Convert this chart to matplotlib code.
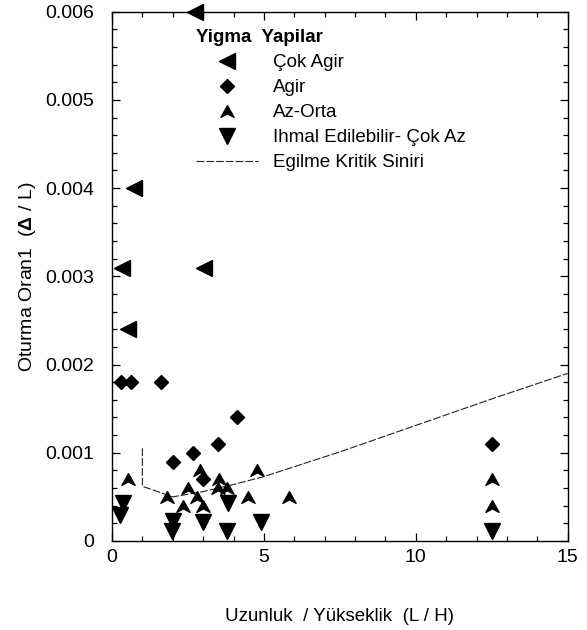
import matplotlib as mpl

mpl.use("Agg")
import matplotlib.pyplot as plt
import numpy as np
from matplotlib.path import Path
from matplotlib.ticker import MultipleLocator

plt.rcParams.update({
    "font.family": ["Liberation Sans", "DejaVu Sans"],
    "mathtext.fontset": "custom",
    "mathtext.rm": "Liberation Sans",
    "mathtext.bf": "Liberation Sans:bold",
    "font.size": 13.5,
})

# Çok Agir (very heavy)
cok_x = [2.74, 0.72, 0.32, 3.02, 0.54]
cok_y = [0.0060, 0.0040, 0.0031, 0.0031, 0.0024]

# Agir (heavy)
agir_x = [0.29, 0.62, 1.61, 4.10, 3.50, 2.68, 2.02, 2.99, 12.5]
agir_y = [0.0018, 0.0018, 0.0018, 0.0014, 0.0011, 0.0010, 0.0009, 0.0007, 0.0011]

# Az-Orta (light-moderate)
az_x = [0.52, 2.90, 4.79, 3.52, 2.51, 3.50, 3.80, 1.80, 2.79, 4.49, 5.83, 2.35, 3.01, 12.5, 12.5]
az_y = [0.0007, 0.0008, 0.0008, 0.0007, 0.0006, 0.0006, 0.0006, 0.0005, 0.0005, 0.0005,
        0.0005, 0.0004, 0.0004, 0.0007, 0.0004]

# Ihmal Edilebilir - Çok Az (negligible)
ihmal_x = [0.36, 0.27, 2.02, 1.96, 3.01, 3.83, 3.80, 4.90, 12.5]
ihmal_y = [0.00043, 0.00030, 0.00023, 0.00011, 0.00022, 0.00043, 0.00011, 0.00022, 0.00011]

# Egilme kritik siniri (bending critical limit)
lim_x = [1.0, 1.0, 2.0, 3.0, 4.0, 5.0, 7.5, 10.0, 12.5, 15.0]
lim_y = [0.00105, 0.00062, 0.00050, 0.00056, 0.00064, 0.00073, 0.00101, 0.00131, 0.00161, 0.00190]

# arrowhead marker used for Az-Orta
ARROW = Path([(0, 0.55), (0.62, -0.55), (0, -0.22), (-0.62, -0.55), (0, 0.55)],
             [Path.MOVETO, Path.LINETO, Path.LINETO, Path.LINETO, Path.CLOSEPOLY])

fig = plt.figure(figsize=(5.87, 6.3), dpi=100)
ax = fig.add_axes([0.1908, 0.1413, 0.7762, 0.8401])

ax.plot(cok_x, cok_y, ls="none", marker="<", ms=11, color="black", clip_on=False,
        label="Çok Agir", zorder=3)
ax.plot(agir_x, agir_y, ls="none", marker="D", ms=7.5, color="black", clip_on=False,
        label="Agir", zorder=3)
ax.plot(az_x, az_y, ls="none", marker=ARROW, ms=9.5, color="black", clip_on=False,
        label="Az-Orta", zorder=3)
ax.plot(ihmal_x, ihmal_y, ls="none", marker="v", ms=12, color="black", clip_on=False,
        label="Ihmal Edilebilir- Çok Az", zorder=3)
ax.plot(lim_x, lim_y, color="#222222", lw=0.8, dashes=(7, 1.8),
        label="Egilme Kritik Siniri", zorder=2)

ax.set_xlim(0, 15)
ax.set_ylim(0, 0.006)
ax.xaxis.set_major_locator(MultipleLocator(5))
ax.xaxis.set_minor_locator(MultipleLocator(1))
ax.yaxis.set_major_locator(MultipleLocator(0.001))
ax.yaxis.set_minor_locator(MultipleLocator(0.0002))
ax.set_yticks([0, 0.001, 0.002, 0.003, 0.004, 0.005, 0.006])
ax.set_yticklabels(["0", "0.001", "0.002", "0.003", "0.004", "0.005", "0.006"])
ax.tick_params(which="both", direction="in", top=True, right=True, width=0.9, labelsize=14)
ax.tick_params(which="major", length=6)
ax.tick_params(which="minor", length=3.5)
ax.tick_params(axis="y", which="major", pad=13)
ax.tick_params(axis="x", which="major", pad=6)
for sp in ax.spines.values():
    sp.set_linewidth(1.0)

ax.set_xlabel("Uzunluk  / Yükseklik  (L / H)", labelpad=30)
ax.set_ylabel(r"Oturma Oran1  ($\mathbf{\Delta}$ / L)", labelpad=5, fontsize=14)

leg = ax.legend(loc="upper left", bbox_to_anchor=(0.185, 0.967), frameon=False,
                title="Yigma  Yapilar",
                title_fontproperties={"weight": "bold", "size": 13.5},
                fontsize=13.5, handlelength=3.3, handletextpad=0.8, labelspacing=0.42,
                borderpad=0, borderaxespad=0, alignment="left")

fig.savefig("out.png", dpi=100)
